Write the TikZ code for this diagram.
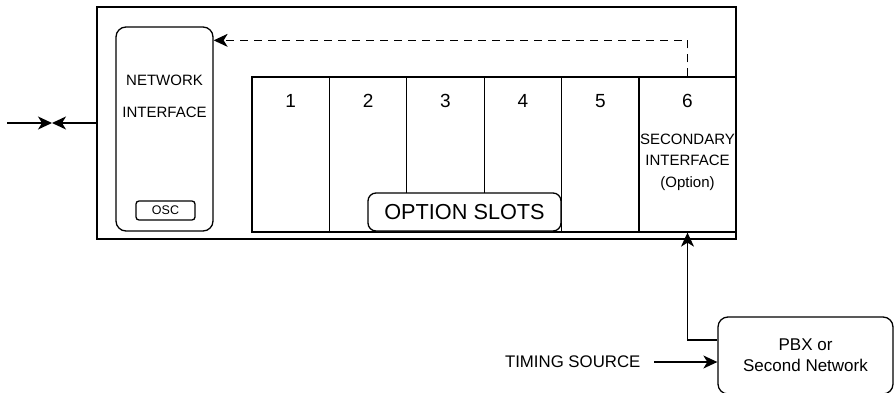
\documentclass[tikz,border=0pt]{standalone}
\usepackage{fontspec}
\setmainfont{Liberation Sans}
\usetikzlibrary{arrows.meta,positioning}

\begin{document}
\begin{tikzpicture}[x=1pt,y=1pt,line width=1.3pt,
	box/.style={draw,inner sep=0pt},
	slotbox/.style={draw,inner sep=0pt,minimum height=155pt,minimum width=77.4pt},
	link/.style={-{Stealth[length=14pt,width=13pt,inset=4pt]}}]
	\useasboundingbox (0,0) rectangle (896,-393);

	\node[box,minimum width=639pt,minimum height=232pt](chassis) at (416.5,-123){};

	\node[box,rounded corners=10pt,minimum width=97pt,minimum height=204pt](netif) at (164.5,-129){};
	\node[font=\fontsize{15}{32}\selectfont,align=center](netlbl) at (164.5,-96){NETWORK\\INTERFACE};
	\node[box,rounded corners=3pt,minimum width=59pt,minimum height=19pt,font=\fontsize{12.5}{12.5}\selectfont](osc) at (165.5,-210.5){OSC};

	\foreach \n in {1,...,5}
		\node[slotbox](S\n) at ({290.7+77.4*(\n-1)},-154.5){};
	\node[slotbox,minimum width=97pt](S6) at (687.5,-154.5){};

	\foreach \n in {1,...,6}
		\node[font=\fontsize{19}{19}\selectfont](N\n) at ([yshift=-25pt]S\n.north){\n};

	\node[font=\fontsize{15}{21.5}\selectfont,align=center](seclbl) at (687.5,-162){SECONDARY\\INTERFACE\\(Option)};

	\node[box,fill=white,rounded corners=8pt,minimum width=193pt,minimum height=38pt,font=\fontsize{21.7}{21.7}\selectfont](optslots) at (464.5,-212){OPTION SLOTS};

	\node[box,rounded corners=10pt,minimum width=175pt,minimum height=77pt,align=center,font=\fontsize{17}{21}\selectfont](pbx) at (805.5,-355.5){PBX or\\Second Network};
	\node[font=\fontsize{16.8}{16.8}\selectfont,anchor=east,inner sep=0pt](timing) at (641,-362){TIMING SOURCE};

	\coordinate (ext) at (7,-123);
	\coordinate (meet) at (52,-123);

	\draw[link] (ext) -- (meet);
	\draw[link] (chassis.west) -- (meet);
	\draw[link,dash pattern=on 8pt off 6pt] (S6.north) |- ([yshift=-14pt]netif.north east);
	\draw[link] ([yshift=15.5pt]pbx.west) -| (S6.south);
	\draw[link] ([xshift=13pt]timing.east) -- (pbx.west |- timing.east);
\end{tikzpicture}
\end{document}
